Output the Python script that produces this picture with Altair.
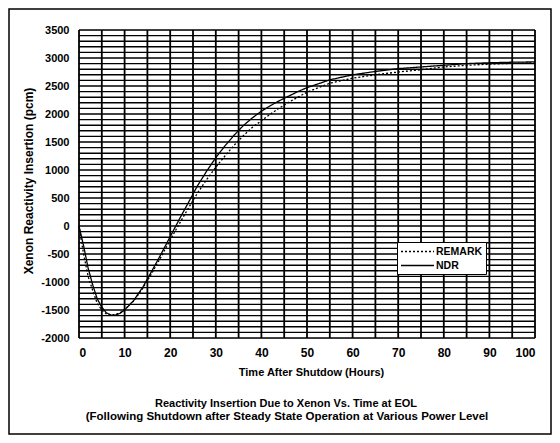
import altair as alt
import pandas as pd

# ---- data ----
t_ndr = [0, 1, 2, 3, 4, 5, 6, 7, 8, 9, 10, 12, 14, 16, 18, 20, 22, 24, 26, 28, 30,
         32, 34, 36, 38, 40, 42, 44, 46, 48, 50, 55, 60, 65, 70, 75, 80, 85, 90, 95, 100]
v_ndr = [0, -350, -750, -1050, -1300, -1450, -1550, -1590, -1590, -1560, -1500, -1330,
         -1090, -800, -500, -190, 120, 420, 720, 980, 1220, 1430, 1620, 1790, 1930, 2050,
         2150, 2240, 2320, 2400, 2470, 2610, 2700, 2760, 2810, 2840, 2870, 2900, 2915, 2925, 2930]
t_rem = [0, 1, 2, 3, 4, 5, 6, 7, 8, 9, 10, 12, 14, 16, 18, 20, 22, 24, 26, 28, 30,
         32, 34, 36, 38, 40, 42, 44, 46, 48, 50, 55, 60, 65, 70, 75, 80, 85, 90, 95, 100]
v_rem = [0, -500, -900, -1150, -1380, -1500, -1570, -1590, -1580, -1550, -1490, -1340,
         -1110, -840, -550, -250, 40, 320, 590, 830, 1050, 1250, 1440, 1610, 1760, 1880,
         2000, 2110, 2210, 2300, 2390, 2550, 2640, 2700, 2750, 2790, 2840, 2870, 2890, 2905, 2915]
series_names = ["REMARK", "NDR"]
x_ticks = [0, 10, 20, 30, 40, 50, 60, 70, 80, 90, 100]
y_ticks = [-2000, -1500, -1000, -500, 0, 500, 1000, 1500, 2000, 2500, 3000, 3500]
x_grid = list(range(0, 101, 5))
y_grid = list(range(-2000, 3501, 100))
x_title = "Time After Shutdow (Hours)"
y_title = "Xenon Reactivity Insertion (pcm)"
caption1 = "Reactivity Insertion Due to Xenon Vs. Time at EOL"
caption2 = "(Following Shutdown after Steady State Operation at Various Power Level"

df = pd.concat([
    pd.DataFrame({"t": t_rem, "v": v_rem, "series": "REMARK"}),
    pd.DataFrame({"t": t_ndr, "v": v_ndr, "series": "NDR"}),
])

FONT = "Liberation Sans"
W, H = 456, 308
PL, PT, PR, PB = 71, 22, 17, 97
xs = alt.Scale(domain=[0, 100], nice=False, zero=False)
ys = alt.Scale(domain=[-2000, 3500], nice=False, zero=False)

x_axis = alt.Axis(
    values=x_ticks, title=x_title, grid=False, domain=False, ticks=False,
    labelPadding=9, labelFont=FONT, labelFontSize=12, labelFontWeight="bold",
    labelColor="black", titleFont=FONT, titleFontSize=11, titleFontWeight="bold",
    titleColor="black", titlePadding=8, titleX=W / 2 + 4)
y_axis = alt.Axis(
    values=y_ticks, title=None, grid=False, domain=False, ticks=False,
    labelPadding=10, labelFont=FONT, labelFontSize=11, labelFontWeight="bold",
    labelColor="black", labelExpr="'' + datum.value")

hgrid = alt.Chart(pd.DataFrame({"v": y_grid})).mark_rule(
    color="black", strokeWidth=1.4).encode(y=alt.Y("v:Q", scale=ys, axis=y_axis))
vgrid = alt.Chart(pd.DataFrame({"t": x_grid})).mark_rule(
    color="black", strokeWidth=1.8).encode(x=alt.X("t:Q", scale=xs, axis=x_axis))

lines = alt.Chart(df).mark_line(color="black", strokeWidth=1.3).encode(
    x=alt.X("t:Q", scale=xs, axis=x_axis),
    y=alt.Y("v:Q", scale=ys, axis=y_axis),
    strokeDash=alt.StrokeDash("series:N", scale=alt.Scale(
        domain=series_names, range=[[2, 2], [1, 0]]), legend=alt.Legend(
        title=None, orient="none", legendX=318, legendY=212, fillColor="white",
        strokeColor="black", padding=3, labelFont=FONT, labelFontSize=10.5,
        labelFontWeight="bold", labelColor="black", symbolType="M-1,0H5",
        symbolStrokeColor="black", symbolStrokeWidth=1.3, symbolSize=121,
        rowPadding=2, labelOffset=23)),
)

ytitle = alt.Chart(pd.DataFrame({"s": [y_title]})).mark_text(
    angle=270, font=FONT, fontSize=12, fontWeight="bold", color="black").encode(
    text="s:N", x=alt.value(-50), y=alt.value(H / 2 - 3))

cap1 = alt.Chart(pd.DataFrame({"s": [caption1]})).mark_text(
    font=FONT, fontSize=11, fontWeight="bold", color="black").encode(
    text="s:N", x=alt.value(207), y=alt.value(H + 66))
cap2 = alt.Chart(pd.DataFrame({"s": [caption2]})).mark_text(
    font=FONT, fontSize=11.5, fontWeight="bold", color="black").encode(
    text="s:N", x=alt.value(208), y=alt.value(H + 79))

frame = alt.Chart(pd.DataFrame({"k": [0]})).mark_rect(
    fill=None, stroke="black", strokeWidth=1.5).encode(
    x=alt.value(-PL + 1), x2=alt.value(W + PR - 1),
    y=alt.value(-PT + 1), y2=alt.value(H + PB - 1))

chart = alt.layer(hgrid, vgrid, lines, ytitle, cap1, cap2, frame).properties(
    width=W, height=H, autosize=alt.AutoSizeParams(type="none"),
    padding={"left": PL, "top": PT, "right": PR, "bottom": PB},
).configure_view(stroke="black", strokeWidth=2).configure(background="white")

chart.save("out.html", embed_options={"renderer": "svg", "actions": False})
